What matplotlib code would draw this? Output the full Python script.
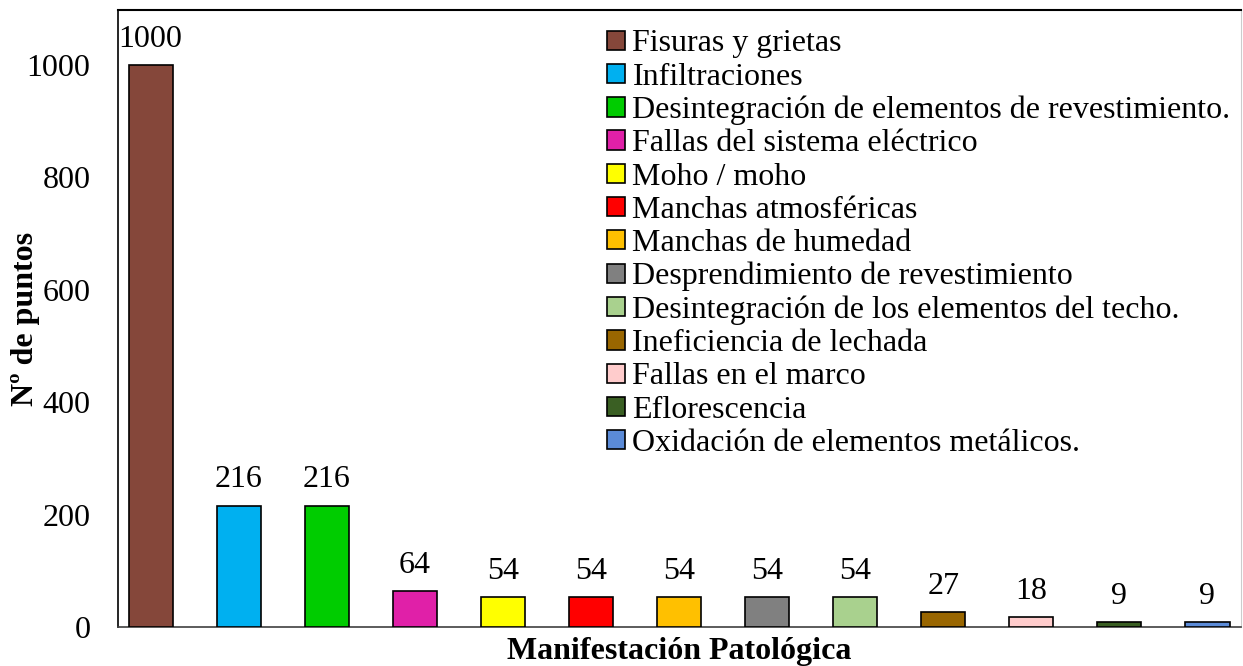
import matplotlib
matplotlib.use("Agg")
import matplotlib.pyplot as plt

plt.rcParams['font.family'] = ['Liberation Serif', 'DejaVu Serif']

categories = ["Fisuras y grietas",
              "Infiltraciones",
              "Desintegración de elementos de revestimiento.",
              "Fallas del sistema eléctrico",
              "Moho / moho",
              "Manchas atmosféricas",
              "Manchas de humedad",
              "Desprendimiento de revestimiento",
              "Desintegración de los elementos del techo.",
              "Ineficiencia de lechada",
              "Fallas en el marco",
              "Eflorescencia",
              "Oxidación de elementos metálicos."]
values = [1000, 216, 216, 64, 54, 54, 54, 54, 54, 27, 18, 9, 9]
colors = ["#85473A", "#00B0F0", "#00CC00", "#E020A8", "#FFFF00", "#FF0000",
          "#FFC000", "#808080", "#A9D18E", "#996600", "#FFCCCC", "#3A5F23",
          "#5B8BD8"]
yticks = [0, 200, 400, 600, 800, 1000]

fs = 23

fig = plt.figure(figsize=(12.43, 6.66), dpi=100)
ax = fig.add_axes([0.095, 0.0586, 0.903, 0.9264])

xs = list(range(len(values)))
bars = ax.bar(xs, values, width=0.5, color=colors, edgecolor='black',
              linewidth=1.2, label=categories, zorder=3)

for x, v in zip(xs, values):
    ax.annotate(str(v), (x, v), xytext=(0, 8), textcoords='offset points',
                ha='center', va='bottom', fontsize=fs)

ax.set_xlim(-0.37, 12.375)
ax.set_ylim(0, 1098)
ax.set_xticks([])
ax.set_yticks(yticks)
ax.tick_params(axis='y', length=0, labelsize=fs, pad=20)

ax.spines['left'].set_linewidth(1.2)
ax.spines['bottom'].set_linewidth(1.2)
ax.spines['bottom'].set_color('#404040')
ax.spines['top'].set_linewidth(1.5)
ax.spines['right'].set_color('#cccccc')

ax.set_ylabel("Nº de puntos", fontsize=fs, fontweight='bold')
ax.yaxis.set_label_coords(-0.07, 0.5)
ax.set_xlabel("Manifestación Patológica", fontsize=fs, fontweight='bold', labelpad=7)

fig.legend(handles=bars.patches, labels=categories, loc='upper left',
           bbox_to_anchor=(0.478, 0.975), frameon=False, fontsize=fs,
           handlelength=0.55, handleheight=0.55, handletextpad=0.25,
           labelspacing=0.13, borderaxespad=0.0)

fig.savefig("out.png", dpi=100)
